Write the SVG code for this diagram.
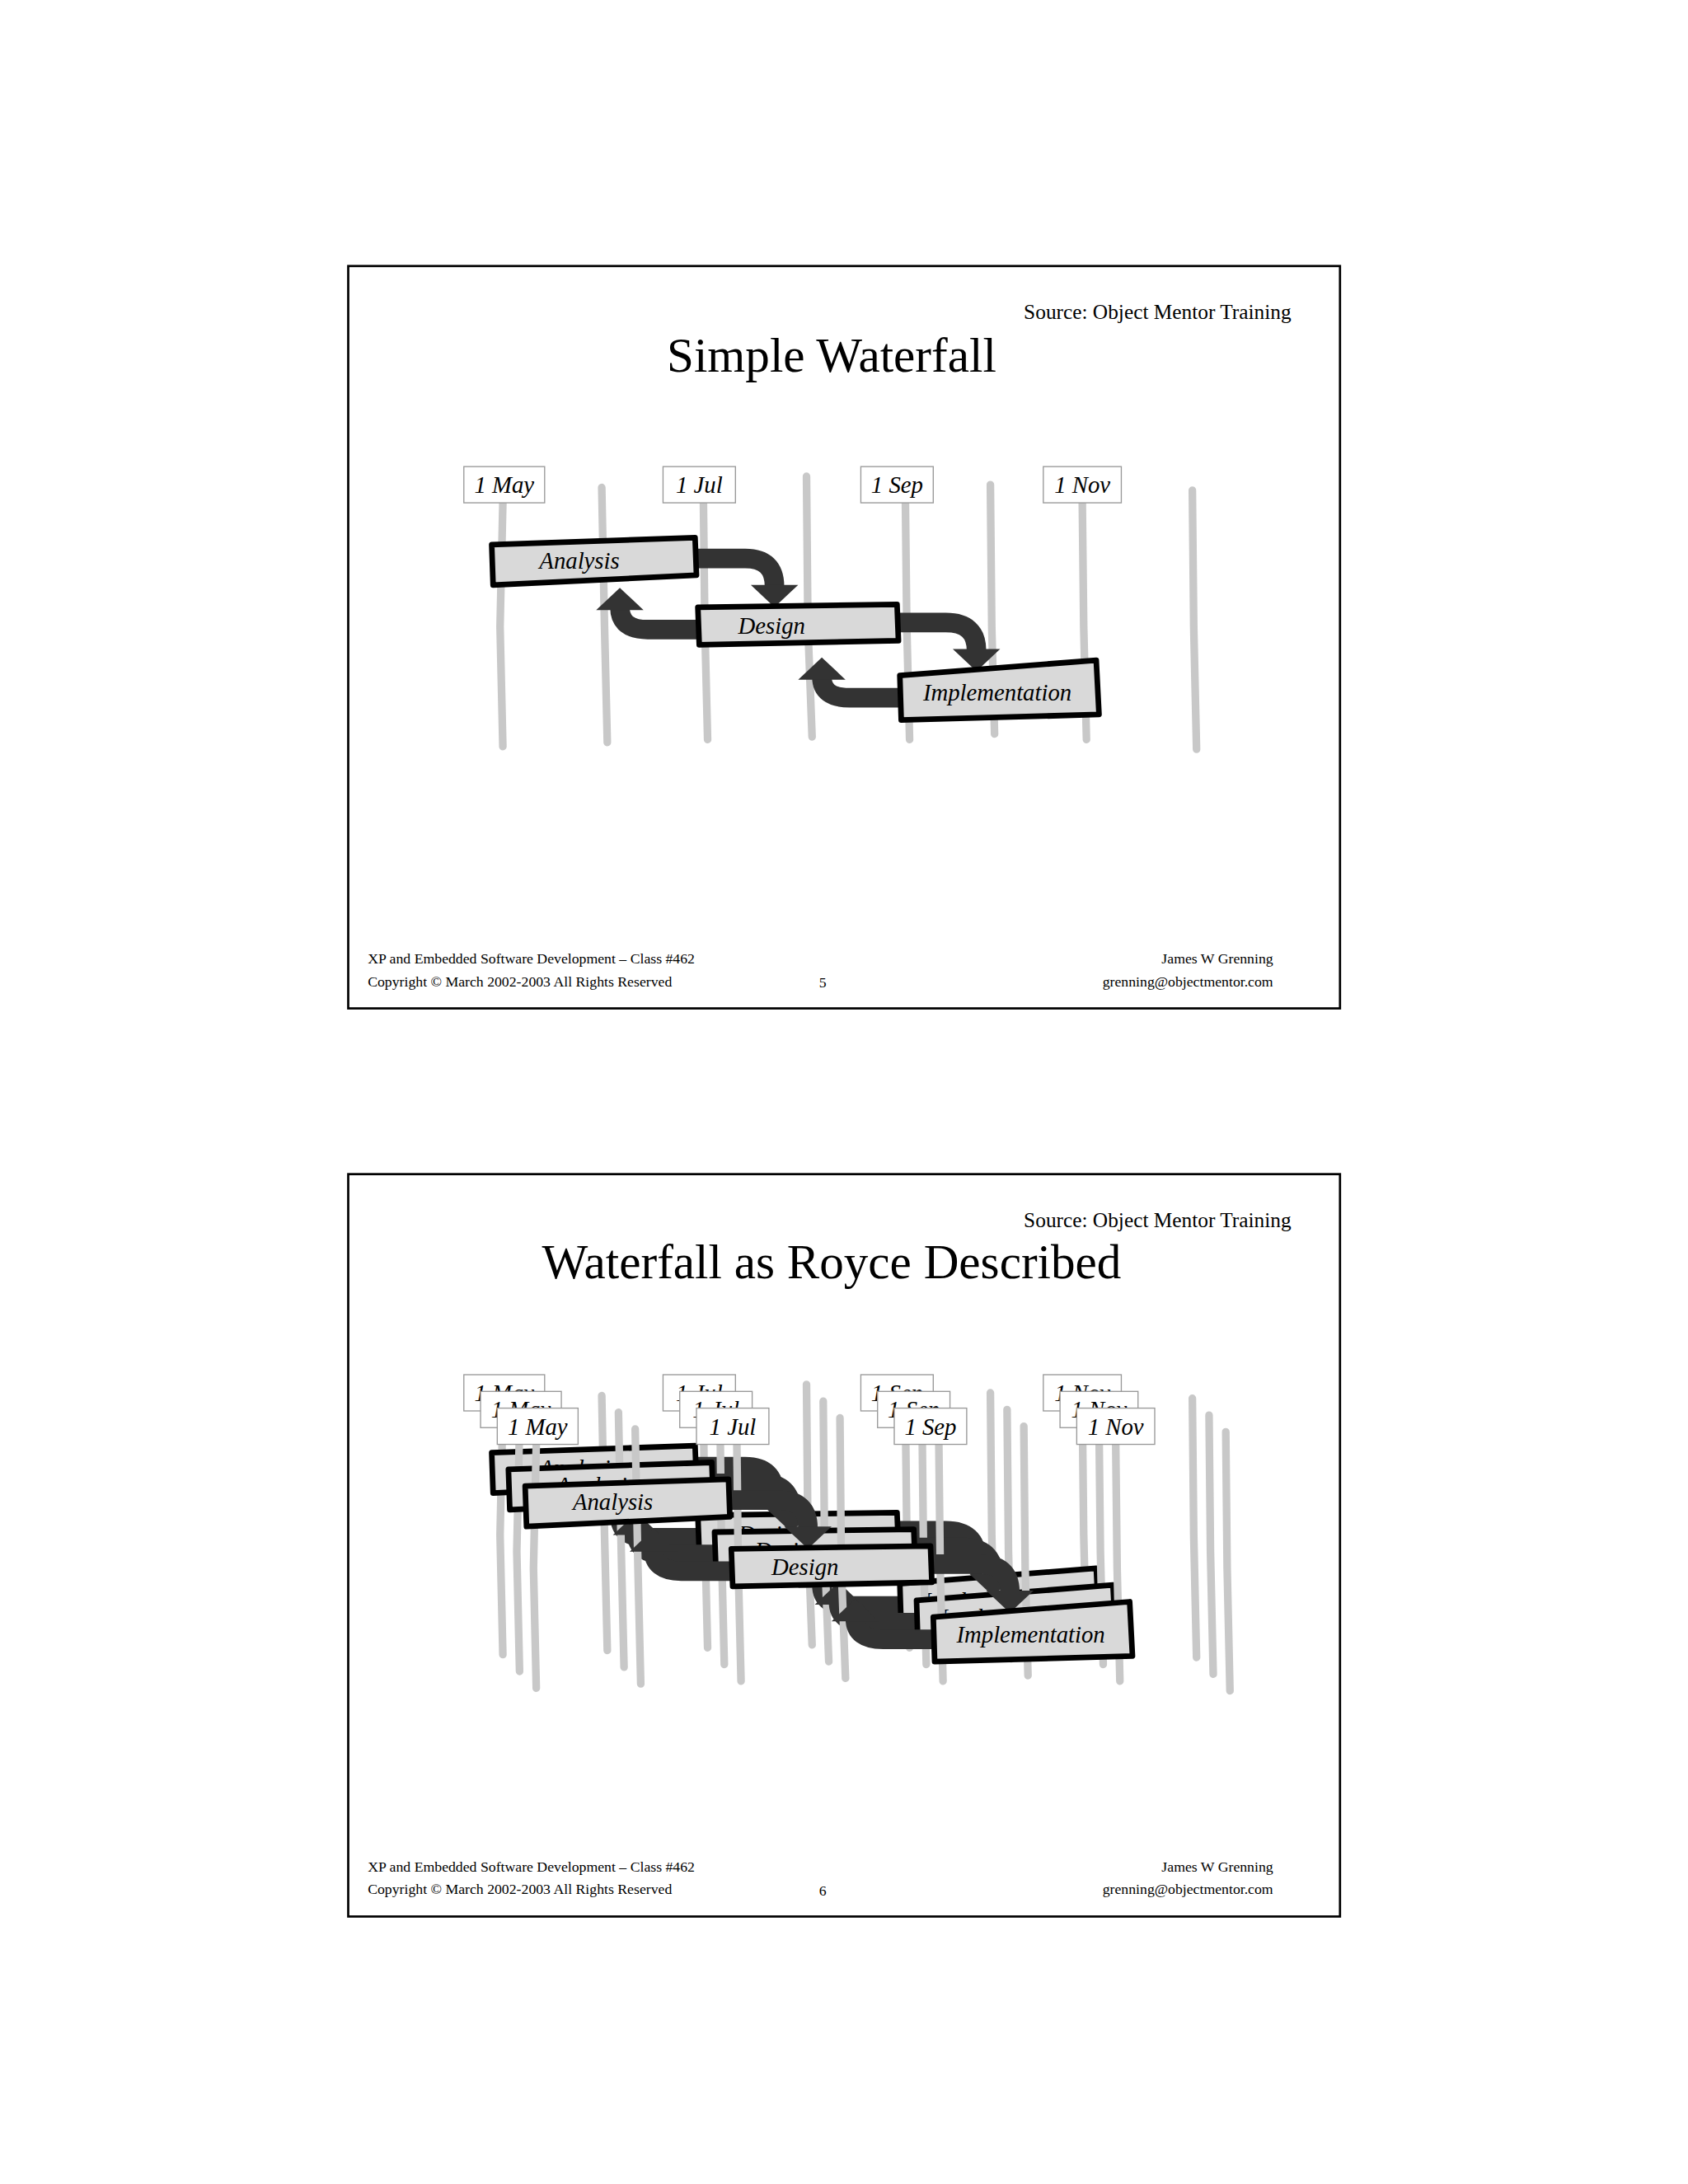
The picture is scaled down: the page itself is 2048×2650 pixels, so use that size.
<svg xmlns="http://www.w3.org/2000/svg" xmlns:xlink="http://www.w3.org/1999/xlink" width="2048" height="2650" viewBox="0 0 2048 2650">
<style>
.frame{fill:#fff;stroke:#000;stroke-width:1.6}
.bar{stroke:#c8c8c8;stroke-width:5.5;fill:none;stroke-linecap:round}
.date{fill:#fff;stroke:#999;stroke-width:0.8}
.dt{font-family:"Liberation Serif",serif;font-style:italic;font-size:17px;text-anchor:middle}
.box{fill:#d9d9d9;stroke:#000;stroke-width:4;stroke-linejoin:round}
.bt{font-family:"Liberation Serif",serif;font-style:italic;font-size:17px;text-anchor:middle}
.arr{fill:none;stroke:#333;stroke-width:14}
.head{fill:#333}
.title{font-family:"Liberation Serif",serif;font-size:35px;text-anchor:middle}
.src{font-family:"Liberation Serif",serif;font-size:15px;text-anchor:end}
.ft{font-family:"Liberation Serif",serif;font-size:10.5px}
.fr{font-family:"Liberation Serif",serif;font-size:10.5px;text-anchor:end}
</style>
<defs>
<g id="diagram">
<g id="bars">
<path class="bar" d="M361,361 L359,450 L361,536"/>
<path class="bar" d="M432,350 L434,450 L436,533"/>
<path class="bar" d="M505,361 L506,450 L508,531"/>
<path class="bar" d="M579,342 L580,450 L583,529"/>
<path class="bar" d="M650,361 L651,450 L653,531"/>
<path class="bar" d="M711,348 L712,450 L714,527"/>
<path class="bar" d="M777,361 L778,450 L780,531"/>
<path class="bar" d="M856,352 L857,450 L859,538"/>
</g>
<g id="dates">
<g id="d-may"><rect class="date" x="333" y="335" width="58" height="26"/><text class="dt" x="362" y="354">1 May</text></g>
<g id="d-jul"><rect class="date" x="476" y="335" width="52" height="26"/><text class="dt" x="502" y="354">1 Jul</text></g>
<g id="d-sep"><rect class="date" x="618" y="335" width="52" height="26"/><text class="dt" x="644" y="354">1 Sep</text></g>
<g id="d-nov"><rect class="date" x="749" y="335" width="56" height="26"/><text class="dt" x="777" y="354">1 Nov</text></g>
</g>
<g id="connectors">
<path class="arr" d="M498,401 H535 Q556,401 556,421"/>
<polygon class="head" points="539,420 573,420 556,436"/>
<path class="arr" d="M502,452 H465 Q445,452 445,436"/>
<polygon class="head" points="428,438 462,438 445,422"/>
<path class="arr" d="M643,447 H679 Q701,447 701,467"/>
<polygon class="head" points="684,466 718,466 701,482"/>
<path class="arr" d="M647,501 H610 Q590,501 590,486"/>
<polygon class="head" points="573,488 607,488 590,472"/>
</g>
<g id="analysis"><polygon class="box" points="353,391 499,386 500,413 354,420"/><text class="bt" x="416" y="408">Analysis</text></g>
<g id="design"><polygon class="box" points="501,436 644,434 645,460 502,463"/><text class="bt" x="554" y="455">Design</text></g>
<g id="implementation"><polygon class="box" points="646,485 787,474 789,513 647,517"/><text class="bt" x="716" y="503">Implementation</text></g>
</g>
</defs>
<g transform="scale(1.69)">
<g id="slide1">
<rect class="frame" x="250" y="191" width="712" height="533"/>
<text class="src" x="927" y="229">Source: Object Mentor Training</text>
<text class="title" x="597" y="267">Simple Waterfall</text>
<use xlink:href="#diagram" href="#diagram"/>
<text class="ft" x="264" y="692">XP and Embedded Software Development – Class  #462</text>
<text class="ft" x="264" y="708">Copyright © March 2002-2003 All Rights Reserved</text>
<text class="ft" x="588" y="709">5</text>
<text class="fr" x="914" y="692">James W Grenning</text>
<text class="fr" x="914" y="708">grenning@objectmentor.com</text>
</g>
<g id="slide2">
<rect class="frame" x="250" y="843" width="712" height="533"/>
<text class="src" x="927" y="881">Source: Object Mentor Training</text>
<text class="title" x="597" y="918">Waterfall as Royce Described</text>
<use xlink:href="#diagram" href="#diagram" transform="translate(0,652)"/>
<use xlink:href="#diagram" href="#diagram" transform="translate(12,664)"/>
<use xlink:href="#diagram" href="#diagram" transform="translate(24,676)"/>
<text class="ft" x="264" y="1344">XP and Embedded Software Development – Class  #462</text>
<text class="ft" x="264" y="1360">Copyright © March 2002-2003 All Rights Reserved</text>
<text class="ft" x="588" y="1361">6</text>
<text class="fr" x="914" y="1344">James W Grenning</text>
<text class="fr" x="914" y="1360">grenning@objectmentor.com</text>
</g>
</g>
</svg>
